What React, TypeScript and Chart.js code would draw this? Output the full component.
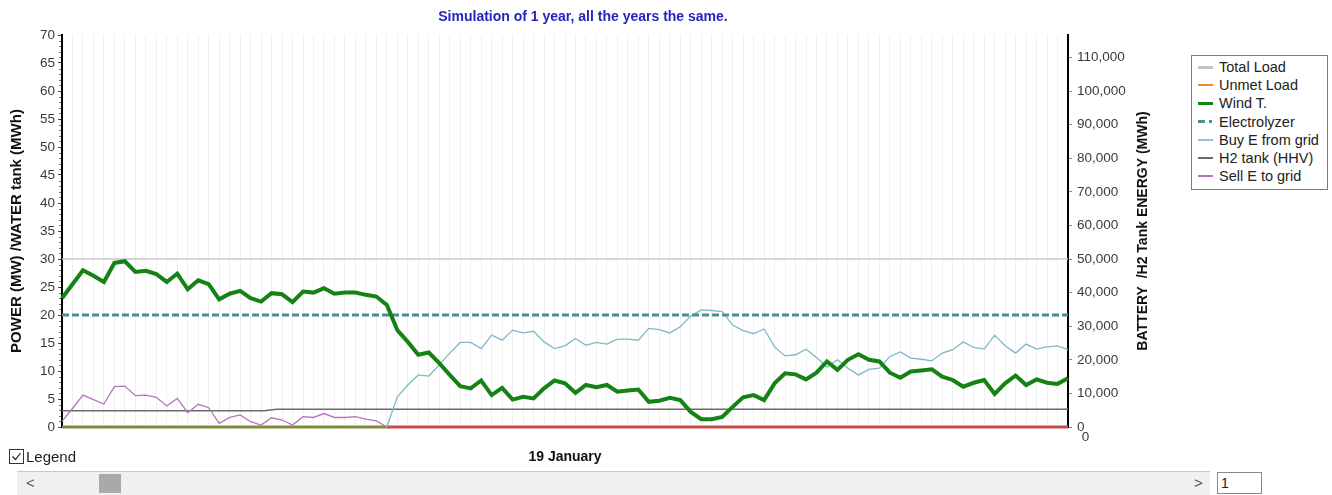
import React, { useEffect, useRef } from 'react';
import { Chart, registerables } from 'chart.js';

Chart.register(...registerables);

// ---- data -------------------------------------------------------------
// One simulated day, 97 quarter-hour samples starting shortly before midnight.
const FIRST_SLOT_HOUR = -0.42;
const SLOT_HOURS = 0.25;

const chartTitle = 'Simulation of 1 year, all the years the same.';
const dayLabel = '19 January';
const leftAxisTitle = 'POWER (MW) /WATER tank (MWh)';
const rightAxisTitle = 'BATTERY  /H2 Tank ENERGY (MWh)';
const hourTickStep = 3;
const closingMidnightHour = 24;
const closingMidnightLabel = '0';

// Wind turbine output (MW)
const windT = [
  23.0, 25.5, 28.0, 27.0, 25.9, 29.3, 29.6, 27.7, 27.9, 27.3,
  25.9, 27.4, 24.6, 26.2, 25.5, 22.8, 23.8, 24.3, 23.0, 22.4,
  23.9, 23.7, 22.3, 24.2, 24.0, 24.8, 23.8, 24.0, 24.0, 23.6,
  23.3, 21.8, 17.3, 15.2, 12.9, 13.3, 11.4, 9.3, 7.3, 6.9,
  8.3, 5.7, 7.0, 4.9, 5.4, 5.1, 6.9, 8.3, 7.8, 6.1,
  7.5, 7.1, 7.5, 6.3, 6.5, 6.7, 4.5, 4.7, 5.2, 4.8,
  2.7, 1.4, 1.4, 1.8, 3.6, 5.3, 5.7, 4.8, 7.8, 9.6,
  9.4, 8.5, 9.7, 11.7, 10.2, 12.0, 13.0, 12.0, 11.7, 9.7,
  8.8, 9.9, 10.1, 10.3, 9.0, 8.4, 7.2, 7.9, 8.4, 5.9,
  7.8, 9.2, 7.5, 8.5, 7.9, 7.7, 8.7,
];

// Energy sold to the grid (MW), slots 0..31
const sellToGrid = [
  1.0, 3.3, 5.7, 4.9, 4.1, 7.2, 7.3, 5.6, 5.7, 5.3,
  3.75, 5.1, 2.55, 4.05, 3.45, 0.65, 1.7, 2.15, 0.95, 0.35,
  1.65, 1.25, 0.35, 1.85, 1.7, 2.4, 1.7, 1.7, 1.85, 1.4,
  1.1, 0,
];

// Energy bought from the grid (MW), slots 31..96
const buyFromGridFirstSlot = 31;
const buyFromGrid = [
  0, 5.4, 7.5, 9.3, 9.1, 11.1, 13.2, 15.1, 15.1, 14.0,
  16.4, 15.5, 17.3, 16.8, 17.1, 15.2, 14.0, 14.5, 15.8, 14.6,
  15.1, 14.8, 15.7, 15.7, 15.5, 17.6, 17.4, 16.8, 17.9, 19.8,
  20.9, 20.8, 20.6, 18.2, 17.2, 16.7, 17.5, 14.3, 12.7, 12.9,
  13.9, 12.4, 10.7, 12.0, 10.5, 9.3, 10.3, 10.5, 12.6, 13.4,
  12.3, 12.1, 11.8, 13.2, 13.8, 15.2, 14.2, 13.9, 16.4, 14.5,
  13.2, 14.8, 13.9, 14.3, 14.5, 13.8,
];

// Constant levels (MW)
const totalLoadLevel = 30;
const electrolyzerLevel = 20;
const unmetLoadLevel = 0;

// H2 tank content (MWh, right axis)
const h2TankHours = [-0.42, 4.4, 4.7, 23.58];
const h2TankEnergy = [4850, 4850, 5250, 5250];

// Axis ranges and ticks
const powerMax = 70;
const powerStep = 5;
const energyMax = 116667;
const energyTicks = [0, 10000, 20000, 30000, 40000, 50000, 60000, 70000, 80000, 90000, 100000, 110000];

// ---- styling ----------------------------------------------------------
const FONT = '"Liberation Sans", Arial, Helvetica, sans-serif';
const TICK_SIZE = 13.5;
const COLORS = {
  totalLoad: '#c9c3d6',
  unmetLoad: '#f08a24',
  wind: '#148214',
  electrolyzer: '#4d8e8e',
  buy: '#7db9c4',
  h2: '#6b6b6b',
  sell: '#b673bf',
  baselineBefore: '#7f8a3e',
  baselineAfter: '#c64a46',
};

const legendItems = [
  { label: 'Total Load', color: '#c4c4c4', width: 3 },
  { label: 'Unmet Load', color: COLORS.unmetLoad, width: 2 },
  { label: 'Wind T.', color: COLORS.wind, width: 3 },
  { label: 'Electrolyzer', color: COLORS.electrolyzer, width: 3, dashed: true },
  { label: 'Buy E from grid', color: '#8fc4cc', width: 2 },
  { label: 'H2 tank (HHV)', color: COLORS.h2, width: 2 },
  { label: 'Sell E to grid', color: COLORS.sell, width: 2 },
];

const slotHour = (i: number) => FIRST_SLOT_HOUR + i * SLOT_HOURS;
const lastHour = slotHour(windT.length - 1);

const isMultiple = (v: number, step: number) => Math.abs(v / step - Math.round(v / step)) < 1e-6;

// Minor ticks, the closing-midnight label and the right-hand axis title.
const extrasPlugin = {
  id: 'extras',
  afterDraw(chart: any) {
    const { ctx, chartArea, scales } = chart;
    ctx.save();
    ctx.strokeStyle = '#777';
    ctx.lineWidth = 1;
    for (let v = 0; v <= powerMax; v++) {
      if (v % powerStep === 0) continue;
      const y = Math.round(scales.y.getPixelForValue(v)) + 0.5;
      ctx.beginPath();
      ctx.moveTo(chartArea.left - 3, y);
      ctx.lineTo(chartArea.left - 1, y);
      ctx.stroke();
    }
    ctx.fillStyle = '#3a3a3a';
    ctx.font = `${TICK_SIZE}px ${FONT}`;
    ctx.textAlign = 'center';
    ctx.textBaseline = 'top';
    ctx.fillText(closingMidnightLabel, scales.x.getPixelForValue(closingMidnightHour), chartArea.bottom + 4);

    ctx.translate(chartArea.right + 75, (chartArea.top + chartArea.bottom) / 2);
    ctx.rotate(-Math.PI / 2);
    ctx.font = `bold 14px ${FONT}`;
    ctx.fillStyle = '#111';
    ctx.textAlign = 'center';
    ctx.textBaseline = 'middle';
    ctx.fillText(rightAxisTitle, 0, 0);
    ctx.restore();
  },
};

export default function App() {
  const canvasRef = useRef<HTMLCanvasElement>(null);

  useEffect(() => {
    if (!canvasRef.current) return;
    const windData = windT.map((y, i) => ({ x: slotHour(i), y }));
    const sellData = sellToGrid.map((y, i) => ({ x: slotHour(i), y }));
    const buyData = buyFromGrid.map((y, i) => ({ x: slotHour(buyFromGridFirstSlot + i), y }));
    const flat = (level: number) => [
      { x: slotHour(0), y: level },
      { x: lastHour, y: level },
    ];
    const baseline = [
      { x: slotHour(0), y: unmetLoadLevel },
      { x: slotHour(buyFromGridFirstSlot), y: unmetLoadLevel },
      { x: lastHour, y: unmetLoadLevel },
    ];
    const h2Data = h2TankHours.map((x, i) => ({ x, y: h2TankEnergy[i] }));
    const switchHour = slotHour(buyFromGridFirstSlot);

    const common = { pointRadius: 0, pointHoverRadius: 0, tension: 0, fill: false, clip: 4 };

    const chart = new Chart(canvasRef.current, {
      type: 'line',
      data: {
        datasets: [
          { ...common, label: 'Wind T.', data: windData, borderColor: COLORS.wind, borderWidth: 4, yAxisID: 'y', order: 0 },
          { ...common, label: 'Electrolyzer', data: flat(electrolyzerLevel), borderColor: COLORS.electrolyzer, borderWidth: 3, borderDash: [7, 3], yAxisID: 'y', order: 1 },
          { ...common, label: 'Buy E from grid', data: buyData, borderColor: COLORS.buy, borderWidth: 1.3, yAxisID: 'y', order: 2 },
          { ...common, label: 'Sell E to grid', data: sellData, borderColor: COLORS.sell, borderWidth: 1.3, yAxisID: 'y', order: 3 },
          { ...common, label: 'H2 tank (HHV)', data: h2Data, borderColor: COLORS.h2, borderWidth: 1.5, yAxisID: 'y2', order: 4 },
          { ...common, label: 'Total Load', data: flat(totalLoadLevel), borderColor: COLORS.totalLoad, borderWidth: 1.5, yAxisID: 'y', order: 5 },
          {
            ...common,
            label: 'Unmet Load',
            data: baseline,
            borderColor: COLORS.unmetLoad,
            borderWidth: 3,
            yAxisID: 'y',
            order: 6,
            segment: {
              borderColor: (c: any) => (c.p0.parsed.x < switchHour ? COLORS.baselineBefore : COLORS.baselineAfter),
            },
          },
        ] as any,
      },
      options: {
        responsive: false,
        animation: false,
        events: [],
        layout: { padding: 0 },
        plugins: {
          legend: { display: false },
          tooltip: { enabled: false },
          title: {
            display: true,
            text: chartTitle,
            color: '#2424c0',
            font: { family: FONT, size: 14, weight: 'bold', lineHeight: 1.2 },
            padding: { top: 9, bottom: 9.2 },
          },
        },
        scales: {
          x: {
            type: 'linear',
            min: FIRST_SLOT_HOUR,
            max: lastHour,
            afterFit: (s: any) => { s.height = 43; },
            grid: { display: true, color: '#f0f0f0', lineWidth: 1, drawTicks: false },
            border: { display: false },
            ticks: {
              stepSize: SLOT_HOURS,
              autoSkip: false,
              maxRotation: 0,
              padding: 4,
              color: '#3a3a3a',
              font: { family: FONT, size: TICK_SIZE },
              callback: (v: any) => (isMultiple(Number(v), hourTickStep) ? String(Math.round(Number(v))) : ''),
            },
            title: {
              display: true,
              text: dayLabel,
              color: '#111',
              font: { family: FONT, size: 14, weight: 'bold', lineHeight: 1.2 },
              padding: { top: 0, bottom: 4.6 },
            },
          },
          y: {
            position: 'left',
            min: 0,
            max: powerMax,
            afterFit: (s: any) => { s.width = 62; },
            grid: { display: true, drawOnChartArea: false, drawTicks: true, tickLength: 4, color: '#444' },
            border: { display: true, color: '#000', width: 2 },
            ticks: { stepSize: powerStep, autoSkip: false, padding: 3, color: '#3a3a3a', font: { family: FONT, size: TICK_SIZE } },
            title: {
              display: true,
              text: leftAxisTitle,
              color: '#111',
              font: { family: FONT, size: 15, weight: 'bold', lineHeight: 1.2 },
              padding: { top: 8, bottom: 0 },
            },
          },
          y2: {
            position: 'right',
            min: 0,
            max: energyMax,
            afterFit: (s: any) => { s.width = 98; },
            afterBuildTicks: (s: any) => { s.ticks = energyTicks.map((value) => ({ value })); },
            grid: { display: true, drawOnChartArea: false, drawTicks: true, tickLength: 4, color: '#888' },
            border: { display: true, color: '#000', width: 2 },
            ticks: {
              autoSkip: false,
              padding: 5,
              color: '#3a3a3a',
              font: { family: FONT, size: TICK_SIZE },
              callback: (v: any) => Number(v).toLocaleString('en-US'),
            },
          },
        },
      } as any,
      plugins: [extrasPlugin],
    });
    return () => chart.destroy();
  }, []);

  const legendTop = 55;
  const rowH = 18.2;

  return (
    <div style={{ position: 'absolute', left: 0, top: 0, width: 1332, height: 495, background: '#fff', fontFamily: FONT, overflow: 'hidden' }}>
      <canvas ref={canvasRef} width={1166} height={470} style={{ position: 'absolute', left: 0, top: 0, width: 1166, height: 470 }} />

      {/* legend box */}
      <div style={{ position: 'absolute', left: 1191, top: legendTop, width: 135, height: 133, border: '1px solid #7a7a7a', background: '#fff' }} />
      {legendItems.map((it, i) => {
        const cy = legendTop + 12 + i * rowH;
        return (
          <React.Fragment key={it.label}>
            {it.dashed ? (
              <>
                <div style={{ position: 'absolute', left: 1198, top: cy - it.width / 2, width: 7, height: it.width, background: it.color }} />
                <div style={{ position: 'absolute', left: 1209, top: cy - it.width / 2, width: 3, height: it.width, background: it.color }} />
              </>
            ) : (
              <div style={{ position: 'absolute', left: 1198, top: cy - it.width / 2, width: 15, height: it.width, background: it.color }} />
            )}
            <div style={{ position: 'absolute', left: 1219, top: cy - 9, height: 18, lineHeight: '18px', fontSize: 14.5, color: '#222', whiteSpace: 'nowrap' }}>{it.label}</div>
          </React.Fragment>
        );
      })}

      {/* legend toggle */}
      <div style={{ position: 'absolute', left: 9, top: 449, width: 13, height: 13, border: '1px solid #333', background: '#fff' }}>
        <svg width="13" height="13" style={{ position: 'absolute', left: 0, top: 0 }}>
          <polyline points="2.5,6.5 5.5,9.5 10.5,3" fill="none" stroke="#222" strokeWidth="1.2" />
        </svg>
      </div>
      <div style={{ position: 'absolute', left: 26, top: 448, height: 18, lineHeight: '18px', fontSize: 15, color: '#222' }}>Legend</div>

      {/* horizontal scroll bar */}
      <div style={{ position: 'absolute', left: 17, top: 471, width: 1193, height: 24, background: '#f0f0f0', borderTop: '1px solid #c8c8c8' }} />
      <div style={{ position: 'absolute', left: 26, top: 474, fontSize: 15, lineHeight: '18px', color: '#555' }}>&lt;</div>
      <div style={{ position: 'absolute', left: 99, top: 474, width: 22, height: 19, background: '#a9a9a9' }} />
      <div style={{ position: 'absolute', left: 1194, top: 474, fontSize: 15, lineHeight: '18px', color: '#555' }}>&gt;</div>
      <div style={{ position: 'absolute', left: 1217, top: 472, width: 45, height: 22, border: '1px solid #8a8a8a', background: '#fff', fontSize: 14, lineHeight: '20px', paddingLeft: 3, boxSizing: 'border-box', color: '#222' }}>1</div>
    </div>
  );
}
